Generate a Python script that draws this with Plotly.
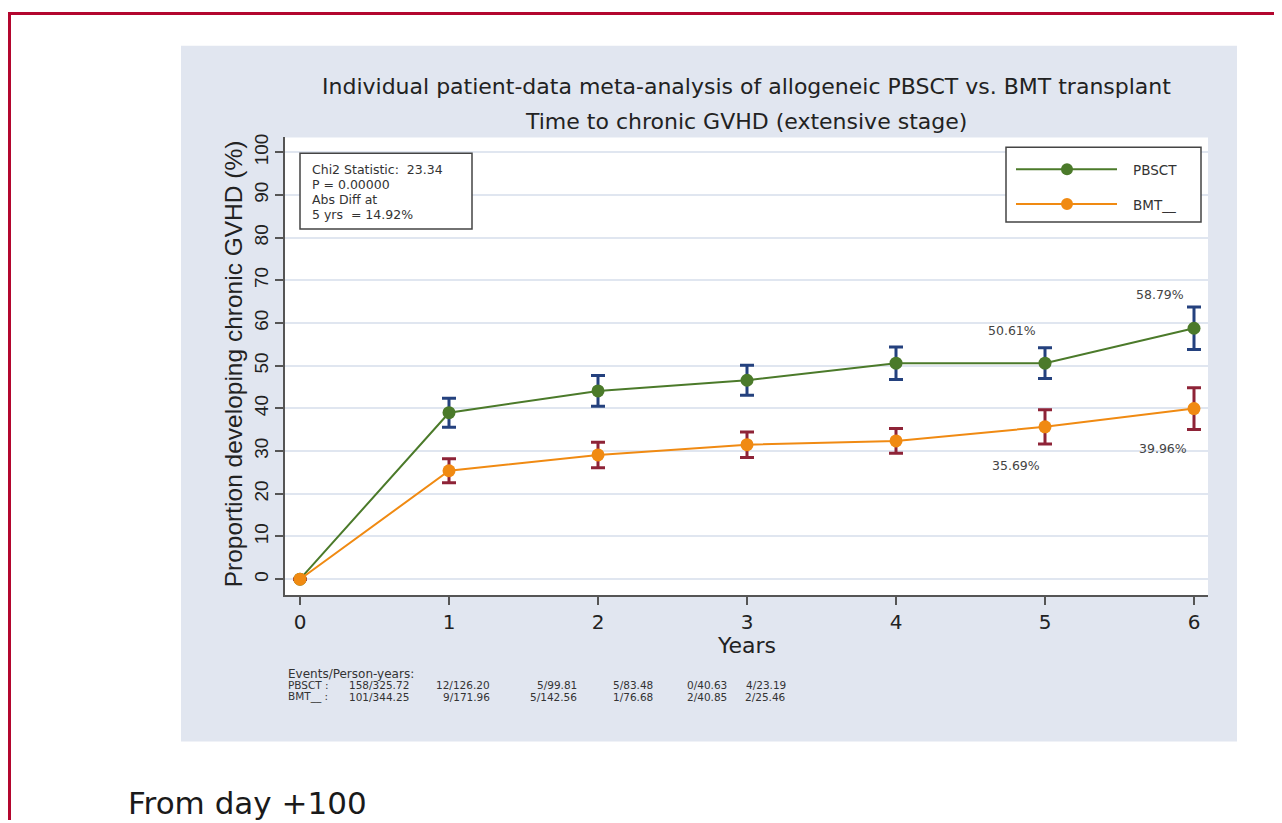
import plotly.graph_objects as go

# page offset compensation (figure starts at this screen offset)
OX, OY = 8, 11
FW, FH = 1274, 812
def px(x): return (x - OX) / FW
def py(y): return 1 - (y - OY) / FH

years = [0, 1, 2, 3, 4, 5, 6]
pbsct = [0, 39.0, 44.1, 46.6, 50.6, 50.61, 58.79]
pbsct_err = [0, 3.4, 3.6, 3.5, 3.8, 3.6, 5.0]
bmt = [0, 25.4, 29.1, 31.5, 32.4, 35.69, 39.96]
bmt_err = [0, 2.8, 3.0, 3.0, 2.9, 4.0, 4.9]

pbsct_events = ["158/325.72", "12/126.20", "5/99.81", "5/83.48", "0/40.63", "4/23.19"]
bmt_events = ["101/344.25", "9/171.96", "5/142.56", "1/76.68", "2/40.85", "2/25.46"]
event_cols_px = [410, 491, 578, 654, 728, 787]

title1 = "Individual patient-data meta-analysis of allogeneic PBSCT vs. BMT transplant"
title2 = "Time to chronic GVHD (extensive stage)"
stats_lines = ["Chi2 Statistic:  23.34", "P = 0.00000", "Abs Diff at", "5 yrs  = 14.92%"]

GREEN = "#4B7A2A"
ORANGE = "#F08A12"
NAVY = "#24417E"
MAROON = "#8E2337"
WIDE = "DejaVu Sans, Verdana, sans-serif"
ARIAL = "Arial, Liberation Sans, sans-serif"
TXT = "#222222"

fig = go.Figure()
fig.add_trace(go.Scatter(
    x=years, y=pbsct, mode="lines+markers", name="PBSCT",
    line=dict(color=GREEN, width=2), marker=dict(color=GREEN, size=13),
    error_y=dict(type="data", array=pbsct_err, color=NAVY, thickness=3, width=7),
    showlegend=False))
fig.add_trace(go.Scatter(
    x=years, y=bmt, mode="lines+markers", name="BMT__",
    line=dict(color=ORANGE, width=2), marker=dict(color=ORANGE, size=13),
    error_y=dict(type="data", array=bmt_err, color=MAROON, thickness=3, width=7),
    showlegend=False))

RED = "#B3062E"
shapes = []
shapes.append(dict(type="rect", xref="paper", yref="paper", x0=px(181), x1=px(1237), y0=py(744), y1=py(45),
                   fillcolor="#E1E6F0", line=dict(width=0), layer="below"))
shapes.append(dict(type="rect", xref="paper", yref="paper", x0=px(285), x1=px(1208), y0=py(597), y1=py(137),
                   fillcolor="white", line=dict(width=0), layer="below"))
shapes.append(dict(type="line", xref="paper", yref="paper", x0=0, x1=1, y0=1 - 1.5 / FH, y1=1 - 1.5 / FH,
                   line=dict(color=RED, width=3)))
shapes.append(dict(type="line", xref="paper", yref="paper", x0=px(9.5), x1=px(9.5), y0=0, y1=1,
                   line=dict(color=RED, width=3)))
# stats box
shapes.append(dict(type="rect", xref="paper", yref="paper", x0=px(300), x1=px(472), y0=py(229), y1=py(153),
                   fillcolor="white", line=dict(color="#444444", width=1.5)))
# legend box
shapes.append(dict(type="rect", xref="paper", yref="paper", x0=px(1006), x1=px(1201), y0=py(222), y1=py(147),
                   fillcolor="white", line=dict(color="#444444", width=1.5)))
for yy, col in [(169, GREEN), (204, ORANGE)]:
    shapes.append(dict(type="line", xref="paper", yref="paper", x0=px(1016), x1=px(1117), y0=py(yy), y1=py(yy),
                       line=dict(color=col, width=2)))
    shapes.append(dict(type="circle", xref="paper", yref="paper", x0=px(1061), x1=px(1073), y0=py(yy + 6), y1=py(yy - 6),
                       fillcolor=col, line=dict(color=col, width=0)))

def note(text, x, y, size, family=WIDE, color=TXT, xanchor="center", angle=0):
    return dict(text=text, x=px(x), y=py(y), xref="paper", yref="paper", showarrow=False,
                xanchor=xanchor, yanchor="middle", textangle=angle, borderpad=0,
                font=dict(family=family, size=size, color=color))

ann = []
ann.append(note(title1, 746, 86, 22))
ann.append(note(title2, 746, 121, 22))
ann.append(note("Proportion developing chronic GVHD (%)", 233, 365, 24.5, family=ARIAL, angle=-90))
ann.append(note("Years", 746, 648, 22))
for i, line in enumerate(stats_lines):
    ann.append(note(line, 311, 169 + i * 15, 12.5, color="#333333", xanchor="left"))
ann.append(note("PBSCT", 1132, 170, 13.5, color="#333333", xanchor="left"))
ann.append(note("BMT__", 1132, 205, 13.5, color="#333333", xanchor="left"))
# value labels
lab_font = dict(family=WIDE, size=12.5, color="#444444")
for xv, yv, dx, dy in [(years[5], pbsct[5], -33, 33), (years[6], pbsct[6], -34, 34),
                       (years[5], bmt[5], -29, -39), (years[6], bmt[6], -31, -40)]:
    ann.append(dict(text=f"{yv:.2f}%", x=xv, y=yv, xref="x", yref="y", showarrow=False,
                    xanchor="center", yanchor="middle", xshift=dx, yshift=dy, font=lab_font))
# events table
sm = 10.5
ann.append(note("Events/Person-years:", 287, 676, 12, color="#333333", xanchor="left"))
ann.append(note("PBSCT :", 287, 687.5, sm, color="#333333", xanchor="left"))
ann.append(note("BMT__ :", 287, 699, sm, color="#333333", xanchor="left"))
for xc, a, b in zip(event_cols_px, pbsct_events, bmt_events):
    ann.append(note(a, xc, 687.5, sm, color="#333333", xanchor="right"))
    ann.append(note(b, xc, 699, sm, color="#333333", xanchor="right"))
ann.append(note("From day +100", 127, 806, 31, color="#1a1a1a", xanchor="left"))

# y calibration: 0 at 581px, 4.29 px/unit; plot area 137..597 px
ppu = 4.29
y_lo = -(597 - 581) / ppu
y_hi = (581 - 137) / ppu
# x calibration: 0 at 300px, 6 at 1194px
xppu = (1194 - 300) / 6
x_lo = -(300 - 285) / xppu
x_hi = 6 + (1208 - 1194) / xppu

fig.update_layout(
    width=FW, height=FH, margin=dict(l=0, r=0, t=0, b=0),
    paper_bgcolor="white", plot_bgcolor="white",
    shapes=shapes, annotations=ann,
    xaxis=dict(domain=[px(285), px(1208)], range=[x_lo, x_hi], tickmode="array", tickvals=years,
               ticks="outside", ticklen=8, tickwidth=1.5, tickcolor="#555555",
               showline=True, linecolor="#555555", linewidth=1.5, showgrid=False, zeroline=False,
               tickfont=dict(family=WIDE, size=20, color=TXT)),
    yaxis=dict(domain=[py(597), py(137)], range=[y_lo, y_hi], tickmode="array", tickvals=list(range(0, 101, 10)),
               ticks="outside", ticklen=8, tickwidth=1.5, tickcolor="#555555", tickangle=-90,
               showline=True, linecolor="#555555", linewidth=1.5, showgrid=True, gridcolor="#E0E6F0",
               gridwidth=2, zeroline=False, tickfont=dict(family=ARIAL, size=19, color=TXT)),
)
fig.write_html("out.html")
